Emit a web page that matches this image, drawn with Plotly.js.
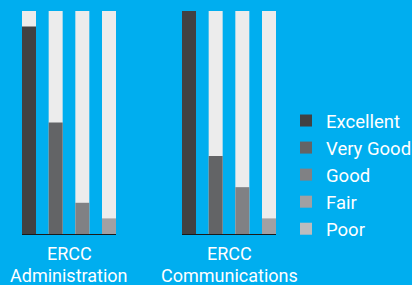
<!DOCTYPE html>
<html><head><meta charset="utf-8">
<script src="https://cdn.plot.ly/plotly-3.0.1.min.js"></script>
<style>html,body{margin:0;padding:0;background:#00AEEF;}</style>
</head><body><div id="chart" style="width:412px;height:285px;"></div>
<script>
const ratings = ["Excellent", "Very Good", "Good", "Fair"];
const legendNames = ["Excellent", "Very Good", "Good", "Fair", "Poor"];
const adminValues = [93, 50, 14, 7, 0];
const commValues = [100, 35, 21, 7, 0];
const maxValue = 100;
const groupLines = [["ERCC", "Administration"], ["ERCC", "Communications"]];
const colors = ["#414143", "#636466", "#808184", "#a0a0a3", "#bcbcbe"];
const bgColor = "#ececec";
const W = 0.525;

const traces = [];
traces.push({type:'bar', x: ratings, y: ratings.map(()=>maxValue), xaxis:'x', yaxis:'y', marker:{color:bgColor}, width:W, showlegend:false, hoverinfo:'skip'});
traces.push({type:'bar', x: ratings, y: ratings.map(()=>maxValue), xaxis:'x2', yaxis:'y', marker:{color:bgColor}, width:W, showlegend:false, hoverinfo:'skip'});
legendNames.forEach((name, i) => {
  const cat = i < ratings.length ? ratings[i] : ratings[ratings.length-1];
  traces.push({type:'bar', name:name, legendgroup:name, x:[cat], y:[adminValues[i]], xaxis:'x', yaxis:'y', marker:{color:colors[i]}, width:W, showlegend:true});
  traces.push({type:'bar', name:name, legendgroup:name, x:[cat], y:[commValues[i]], xaxis:'x2', yaxis:'y', marker:{color:colors[i]}, width:W, showlegend:false});
});

const axisCommon = {type:'category', categoryorder:'array', categoryarray: ratings, range:[-0.2625, 3.2625], showline:true, linecolor:'#1a1a1a', linewidth:1, showticklabels:false, ticks:'', showgrid:false, zeroline:false, anchor:'y', fixedrange:true};
const annotations = [];
groupLines.forEach((lines, i) => {
  lines.forEach((t, j) => {
    annotations.push({text:t, xref: i===0 ? 'x domain':'x2 domain', x:0.5, xanchor:'center', yref:'paper', y:(285-(253.5 + j*21.5))/285, yanchor:'middle', showarrow:false, font:{size:18, color:'#ffffff'}});
  });
});
const layout = {
  width:412, height:285,
  margin:{l:0,r:0,t:0,b:0, autoexpand:false},
  paper_bgcolor:'#00AEEF', plot_bgcolor:'rgba(0,0,0,0)',
  barmode:'overlay',
  font:{family:'Roboto, sans-serif', color:'#ffffff', size:18},
  xaxis: Object.assign({domain:[22/412, 116/412]}, axisCommon),
  xaxis2: Object.assign({domain:[182/412, 276/412]}, axisCommon),
  yaxis:{domain:[51/285, 274/285], range:[0, maxValue], visible:false, fixedrange:true},
  showlegend:true,
  legend:{x:286/412, xanchor:'left', y:(285-102)/285, yanchor:'top', traceorder:'normal', tracegroupgap:3, itemwidth:30, font:{size:18.5, color:'#ffffff'}, bgcolor:'rgba(0,0,0,0)'},
  annotations: annotations
};
Plotly.newPlot('chart', traces, layout, {displayModeBar:false, staticPlot:true});
</script></body></html>
